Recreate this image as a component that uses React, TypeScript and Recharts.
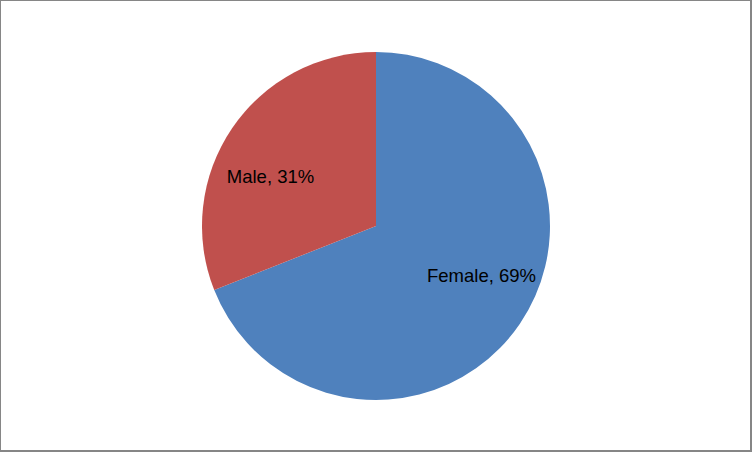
import { PieChart, Pie, Cell } from 'recharts';

const categories = ['Female', 'Male'];
const shares = [69, 31];
const colors = ['#4F81BD', '#C0504D'];

const chartData = categories.map((name, i) => ({ name, value: shares[i] }));

const RADIAN = Math.PI / 180;

// Excel-style "best fit" labels sit a bit counterclockwise of the slice middle
const renderLabel = (props: any) => {
  const { cx, cy, midAngle, outerRadius, name, value } = props;
  const angle = (midAngle + 9) * RADIAN;
  const r = outerRadius * 0.67;
  const x = cx + r * Math.cos(-angle);
  const y = cy + r * Math.sin(-angle);
  return (
    <text
      x={x}
      y={y}
      fill="#000"
      textAnchor="middle"
      dominantBaseline="central"
      style={{ fontFamily: '"Liberation Sans", Arial, sans-serif', fontSize: 18.5 }}
    >
      {`${name}, ${value}%`}
    </text>
  );
};

function App() {
  return (
    <div
      style={{
        position: 'fixed',
        top: 0,
        left: 0,
        width: 752,
        height: 452,
        boxSizing: 'border-box',
        borderTop: '1px solid #868686',
        borderLeft: '1px solid #868686',
        borderRight: '2px solid #868686',
        borderBottom: '2px solid #868686',
        background: '#fff',
      }}
    >
      <PieChart
        width={749}
        height={449}
        margin={{ top: 0, right: 0, bottom: 0, left: 0 }}
        style={{ position: 'absolute', left: 0, top: 0 }}
      >
        <Pie
          data={chartData}
          dataKey="value"
          nameKey="name"
          cx={375}
          cy={225}
          outerRadius={174}
          startAngle={90}
          endAngle={-270}
          stroke="none"
          labelLine={false}
          label={renderLabel}
          isAnimationActive={false}
        >
          {chartData.map((entry, i) => (
            <Cell key={entry.name} fill={colors[i]} />
          ))}
        </Pie>
      </PieChart>
    </div>
  );
}

export default App;
